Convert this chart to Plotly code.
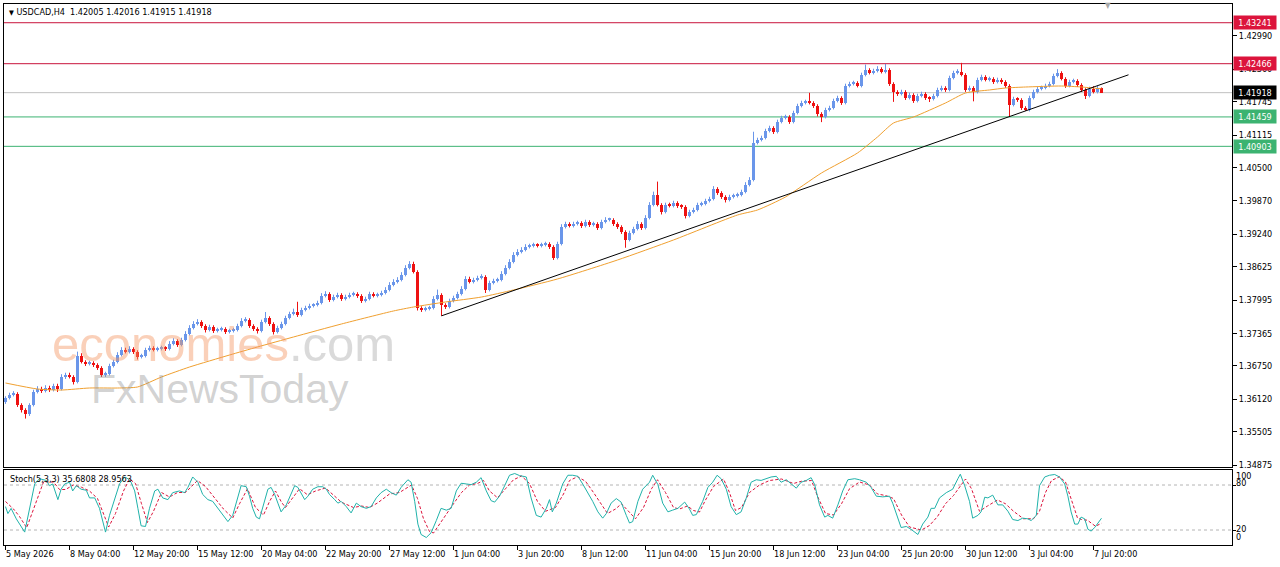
import plotly.graph_objects as go

# ---------------- data ----------------
symbol_title = "USDCAD,H4  1.42005 1.42016 1.41915 1.41918"
stoch_title = "Stoch(5,3,3) 35.6808 28.9563"

first_open = 1.36071
closes = [
    1.36146, 1.36203, 1.36222, 1.36014, 1.35919, 1.35844, 1.36014, 1.36260, 1.36316, 1.36278,
    1.36335, 1.36297, 1.36373, 1.36316, 1.36543, 1.36581, 1.36543, 1.36449, 1.36940, 1.36827,
    1.36789, 1.36808, 1.36770, 1.36714, 1.36581, 1.36600, 1.36751, 1.36827, 1.36959, 1.37054,
    1.37016, 1.37073, 1.37016, 1.36921, 1.36940, 1.37054, 1.37092, 1.37054, 1.37073, 1.37092,
    1.37073, 1.37168, 1.37224, 1.37149, 1.37243, 1.37357, 1.37470, 1.37546, 1.37584, 1.37508,
    1.37432, 1.37489, 1.37413, 1.37432, 1.37451, 1.37394, 1.37413, 1.37432, 1.37508, 1.37603,
    1.37622, 1.37508, 1.37451, 1.37413, 1.37584, 1.37659, 1.37546, 1.37394, 1.37470, 1.37546,
    1.37659, 1.37735, 1.37773, 1.37716, 1.37811, 1.37848, 1.37886, 1.37905, 1.37943, 1.38076,
    1.38113, 1.38000, 1.38057, 1.38094, 1.38019, 1.38057, 1.38094, 1.38113, 1.38076, 1.37981,
    1.38019, 1.38113, 1.38076, 1.38094, 1.38132, 1.38189, 1.38284, 1.38340, 1.38378, 1.38473,
    1.38605, 1.38681, 1.38529, 1.37848, 1.37811, 1.37830, 1.37848, 1.38019, 1.38094, 1.37905,
    1.37867, 1.37981, 1.38038, 1.38113, 1.38208, 1.38397, 1.38340, 1.38378, 1.38416, 1.38435,
    1.38189, 1.38322, 1.38359, 1.38378, 1.38492, 1.38605, 1.38719, 1.38851, 1.38908, 1.38946,
    1.39002, 1.39021, 1.39040, 1.39021, 1.39040, 1.39059, 1.39002, 1.38794, 1.39059, 1.39380,
    1.39437, 1.39399, 1.39437, 1.39456, 1.39399, 1.39475, 1.39418, 1.39437, 1.39361, 1.39475,
    1.39513, 1.39513, 1.39437, 1.39380, 1.39286, 1.39135, 1.39267, 1.39342, 1.39437, 1.39361,
    1.39551, 1.39797, 1.39986, 1.39797, 1.39664, 1.39797, 1.39778, 1.39834, 1.39778, 1.39759,
    1.39589, 1.39664, 1.39702, 1.39797, 1.39816, 1.39872, 1.39910, 1.40100, 1.40024, 1.39948,
    1.39891, 1.39948, 1.39967, 1.39986, 1.40043, 1.40175, 1.40270, 1.40969, 1.41026, 1.41064,
    1.41196, 1.41253, 1.41177, 1.41367, 1.41442, 1.41461, 1.41367, 1.41537, 1.41669, 1.41726,
    1.41745, 1.41726, 1.41669, 1.41518, 1.41461, 1.41593, 1.41631, 1.41764, 1.41820, 1.41726,
    1.42048, 1.42085, 1.42104, 1.42048, 1.42256, 1.42350, 1.42293, 1.42331, 1.42369, 1.42312,
    1.42350, 1.42085, 1.41934, 1.41896, 1.41934, 1.41820, 1.41877, 1.41764, 1.41858, 1.41896,
    1.41820, 1.41801, 1.41858, 1.41972, 1.42010, 1.41972, 1.42199, 1.42293, 1.42312, 1.42256,
    1.41972, 1.42010, 1.41934, 1.42161, 1.42218, 1.42161, 1.42180, 1.42123, 1.42161, 1.42123,
    1.42048, 1.41688, 1.41801, 1.41783, 1.41631, 1.41593, 1.41820, 1.41934, 1.41991, 1.42010,
    1.42048, 1.42085, 1.42237, 1.42293, 1.42180, 1.42048, 1.42123, 1.42142, 1.42066, 1.41972,
    1.41858, 1.41991, 1.41934, 1.42005, 1.41918,
]
# wick lengths above the body top / below the body bottom, in pips
upper_wick_pips = [
    3, 4, 5, 3, 3, 3, 3, 4, 5, 4,   5, 4, 4, 4, 5, 4, 4, 3, 8, 5,
    3, 4, 3, 3, 3, 4, 4, 4, 5, 5,   4, 5, 3, 3, 4, 4, 4, 3, 4, 4,
    3, 5, 5, 3, 4, 5, 5, 5, 5, 3,   3, 4, 3, 4, 4, 3, 4, 4, 4, 5,
    5, 3, 3, 3, 4, 11, 3, 3, 4, 4,  4, 4, 6, 19, 4, 4, 4, 3, 4, 5,
    5, 3, 4, 4, 3, 4, 4, 4, 3, 3,   4, 4, 3, 4, 4, 5, 5, 5, 5, 5,
    5, 5, 4, 3, 3, 4, 4, 5, 10, 3,  3, 4, 4, 4, 5, 5, 4, 4, 4, 5,
    3, 4, 4, 4, 5, 5, 5, 5, 5, 5,   5, 4, 4, 3, 4, 4, 3, 3, 4, 5,
    4, 3, 4, 4, 3, 4, 3, 4, 3, 4,   5, 4, 3, 3, 3, 3, 4, 4, 5, 3,
    5, 5, 6, 25, 3, 4, 4, 4, 3, 3,  3, 4, 4, 4, 4, 4, 4, 5, 3, 3,
    3, 4, 4, 4, 4, 5, 5, 21, 4, 4,  4, 4, 3, 4, 4, 4, 3, 4, 4, 4,
    4, 17, 3, 3, 3, 4, 4, 4, 4, 3,  4, 4, 4, 3, 4, 10, 3, 4, 5, 3,
    11, 3, 3, 3, 4, 3, 4, 3, 4, 4,  3, 3, 4, 4, 4, 3, 4, 4, 5, 17,
    3, 4, 3, 4, 4, 3, 4, 3, 4, 3,   3, 3, 4, 3, 3, 3, 4, 4, 4, 4,
    4, 4, 4, 7, 3, 3, 4, 4, 3, 3,   3, 4, 5, 4, 1.1,
]
lower_wick_pips = [
    4, 3, 3, 4, 5, 9, 4, 3, 3, 4,   3, 4, 3, 6, 3, 4, 3, 5, 3, 3,
    4, 3, 4, 4, 4, 4, 3, 3, 3, 3,   3, 3, 4, 5, 3, 3, 3, 3, 3, 3,
    4, 3, 3, 4, 3, 3, 3, 3, 3, 4,   5, 3, 4, 3, 3, 4, 3, 3, 3, 3,
    3, 4, 4, 5, 3, 3, 4, 5, 3, 3,   3, 3, 3, 4, 3, 3, 3, 3, 3, 3,
    3, 4, 3, 3, 4, 3, 3, 3, 4, 4,   3, 3, 3, 3, 3, 3, 3, 3, 3, 3,
    3, 3, 3, 5, 4, 3, 3, 3, 3, 21,  4, 3, 3, 3, 3, 3, 3, 3, 3, 3,
    6, 3, 3, 3, 3, 3, 3, 3, 3, 3,   3, 3, 3, 3, 3, 3, 4, 4, 3, 3,
    3, 3, 3, 3, 4, 3, 4, 3, 4, 3,   3, 3, 4, 4, 4, 15, 3, 3, 3, 4,
    3, 3, 3, 3, 5, 3, 3, 3, 4, 4,   5, 3, 3, 3, 3, 3, 3, 3, 4, 4,
    5, 3, 3, 3, 3, 3, 3, 3, 3, 3,   3, 3, 4, 3, 3, 3, 4, 3, 3, 3,
    3, 3, 4, 5, 10, 3, 3, 3, 3, 4,  3, 3, 3, 3, 3, 3, 3, 3, 3, 3,
    3, 4, 19, 4, 3, 4, 3, 4, 3, 3,  4, 6, 3, 3, 3, 4, 3, 3, 3, 3,
    4, 3, 18, 3, 3, 3, 3, 4, 3, 4,  4, 23, 3, 4, 4, 2, 3, 3, 3, 3,
    3, 3, 3, 3, 3, 4, 3, 3, 4, 4,   6, 3, 3, 3, 0.3,
]

# moving average (orange line), read at selected bars
ma_bar = [0, 8, 14, 21, 28, 33, 39, 46, 56, 63, 72, 84, 97, 102, 110, 119, 127, 138,
          153, 167, 183, 188, 195, 204, 213, 218, 222, 227, 235, 240, 246, 250, 255, 264, 269, 274]
ma_value = [1.36427, 1.36313, 1.36294, 1.36332, 1.36332, 1.36351, 1.36540, 1.36729, 1.36956,
            1.37108, 1.37297, 1.37543, 1.37789, 1.37864, 1.37959, 1.38053, 1.38186, 1.38394,
            1.38753, 1.39132, 1.39604, 1.39699, 1.39945, 1.40399, 1.40777, 1.41080, 1.41344,
            1.41458, 1.41723, 1.41912, 1.41969, 1.42006, 1.42025, 1.42044, 1.42025, 1.41991]

# trend line drawn on the chart
trend_bar = [109, 280.75]
trend_price = [1.37697, 1.42256]

# horizontal levels
resistance_levels = [1.43241, 1.42466]
support_levels = [1.41459, 1.40903]
bid_price = 1.41918

price_ticks = [1.42990, 1.42360, 1.41745, 1.41115, 1.40500, 1.39870, 1.39240,
               1.38625, 1.37995, 1.37365, 1.36750, 1.36120, 1.35505, 1.34875]

time_label_bars = [0, 16, 32, 48, 64, 80, 96, 112, 128, 144, 160, 176, 192, 208, 224, 240, 256, 272]
time_labels = ["5 May 2026", "8 May 04:00", "12 May 20:00", "15 May 12:00", "20 May 04:00",
               "22 May 20:00", "27 May 12:00", "1 Jun 04:00", "3 Jun 20:00", "8 Jun 12:00",
               "11 Jun 04:00", "15 Jun 20:00", "18 Jun 12:00", "23 Jun 04:00", "25 Jun 20:00",
               "30 Jun 12:00", "3 Jul 04:00", "7 Jul 20:00"]

# stochastic main line (%K)
stoch_main_bar = [
    0, 0.6, 1.4, 2.7, 4.8, 7.3, 8.5, 10.2, 11, 11.8,
    13.1, 13.9, 14.8, 16, 16.8, 17.7, 18.9, 20.2, 21, 22.3,
    23.5, 25, 26, 27.3, 28.5, 29.8, 30.6, 31.4, 32.3, 33.1,
    33.9, 35, 36, 37.3, 38.1, 39.3, 40.6, 41.8, 43.5, 44.8,
    45.6, 46.8, 48.1, 49.3, 50.6, 51.8, 53.1, 54.3, 55.6, 56.8,
    58.1, 58.9, 60.2, 61, 61.8, 62.7, 63.5, 64.3, 65.6, 66.4,
    67.3, 68.1, 68.9, 70.2, 71.4, 72.3, 73.1, 73.9, 74.8, 75.6,
    76.8, 78.1, 79.3, 80.2, 81, 82.3, 83.1, 83.9, 85.2, 86.4,
    87.7, 88.9, 90.2, 91.4, 92.7, 93.9, 95.2, 96.4, 97.7, 98.9,
    100.6, 101.4, 102.3, 103.1, 103.9, 105.2, 106.4, 107.7, 108.9, 110.2,
    111.4, 112.7, 113.9, 115.2, 116.4, 117.7, 118.9, 120.2, 121.4, 122.3,
    123.5, 124.8, 126, 127.3, 128.5, 130.2, 131.4, 132.7, 133.9, 135.2,
    136, 136.7, 137.7, 139.3, 140.6, 141.8, 143.1, 144.3, 145.6, 146.8,
    148.1, 149.3, 150.2, 151.4, 152.7, 153.9, 155.2, 156, 156.8, 158.1,
    159.3, 161, 161.8, 163.1, 164.3, 165.6, 166.8, 168.1, 169.8, 171,
    171.8, 172.7, 174.3, 175.6, 176.8, 177.9, 178.9, 180.2, 181.4, 182.7,
    183.9, 185.2, 186.4, 187.7, 188.9, 190.2, 191.4, 192.7, 193.9, 195.2,
    196.4, 197.7, 198.9, 200.2, 201.4, 202.3, 203.5, 204.8, 205.6, 206.8,
    208.1, 209.3, 210.6, 212.3, 213.5, 215.2, 216.4, 217.7, 219.3, 221,
    221.8, 223.1, 223.9, 225.2, 226.4, 228.1, 229.3, 230.6, 231.4, 232.3,
    233.5, 235.2, 236.8, 238.1, 238.7, 239.8, 241, 241.8, 243.1, 243.9,
    244.8, 245.6, 246.8, 248.1, 249.3, 250.6, 251.8, 253.1, 254.3, 255.6,
    256.4, 257.7, 258.5, 259.8, 261, 262.3, 263.5, 264.8, 265.6, 266.4,
    267.3, 268.1, 268.9, 269.8, 270.6, 271.4, 272.3, 274,
]
stoch_main_value = [
    51.2, 41.9, 48.8, 34.9, 17.2, 81.4, 88.4, 86.1, 79.1, 81.4,
    60.5, 74.4, 81.4, 83.7, 72.1, 79.1, 74.4, 73, 62.8, 62.8,
    48.9, 17.2, 39.5, 62.8, 81.4, 90.7, 88.4, 83.7, 72.1, 48.9,
    25.6, 24.7, 48.9, 72.1, 74.4, 62.8, 60.5, 69.8, 72.1, 69.8,
    76.8, 90.7, 83.7, 67.4, 60.5, 58.2, 48.9, 39.5, 31.2, 39.5,
    62.8, 79.1, 77.7, 65.1, 48.9, 37.2, 34.9, 48.9, 74.4, 76.8,
    67.4, 55.8, 44.2, 53.5, 67.4, 79.1, 76.8, 69.8, 60.5, 65.1,
    74.4, 77.7, 77.7, 74.4, 67.4, 60.5, 55.8, 58.2, 51.2, 42.8,
    55.8, 51.2, 48.9, 51.2, 62.8, 69.8, 74.4, 69.8, 66.5, 76.8,
    87, 83.7, 58.2, 27.9, 14, 10, 16.3, 32.6, 48.9, 46.5,
    48.9, 72.1, 82.3, 81.4, 80.5, 83.7, 89.8, 72.1, 59.1, 57.2,
    65.1, 79.1, 93, 95.3, 92.6, 90.7, 62.8, 39.5, 37.2, 48.9,
    60.5, 44.2, 55.8, 81.4, 93, 93, 91.6, 81.4, 69.8, 58.2,
    44.2, 35.8, 41.9, 55.8, 61.9, 57.2, 39.5, 29.3, 31.2, 58.2,
    74.4, 83.7, 93, 80.5, 55.8, 44.2, 46.5, 48.9, 57.2, 47.9,
    39.5, 40.5, 58.2, 76.8, 83.7, 93, 88.4, 74.4, 51.2, 40.5,
    44.2, 62.8, 83.7, 87, 86.1, 88.4, 90.7, 91.6, 83.7, 87,
    81.4, 75.8, 83.7, 86.1, 89.8, 80.5, 53.5, 37.2, 39.5, 35.8,
    53.5, 72.1, 87, 88.4, 87, 83.7, 76.8, 65.1, 64.2, 65.1,
    55.8, 34.9, 23.3, 24.7, 20.9, 14, 27.9, 37.2, 48.9, 48.9,
    62.8, 69.8, 74.4, 88.4, 94.4, 79.1, 58.2, 35.8, 39.5, 44.2,
    63.7, 62.8, 66.5, 53.5, 53.5, 45.1, 34, 32.6, 35.8, 34.9,
    32.6, 39.5, 79.1, 90.7, 93, 94, 90.7, 81.4, 65.1, 44.2,
    27.9, 27.9, 37.2, 34.9, 21, 18.6, 23.3, 35.68,
]
# stochastic signal line (%D)
stoch_signal_bar = [
    0, 2, 3.5, 5.3, 7.5, 9.5, 12, 13.5, 15, 17,
    19, 21, 23, 24.5, 25.8, 27.5, 29.5, 31, 32.5, 34,
    35.5, 37, 39, 41, 43, 45, 48, 50, 52, 54.5,
    56.8, 58.5, 60.5, 62.5, 64.5, 66, 67.5, 69, 70, 72,
    73.5, 75.5, 77.5, 80, 82, 84, 87, 89, 91, 93,
    96, 98.5, 101.5, 103, 104.5, 106, 107, 108.5, 110, 112,
    114, 116, 118, 119.5, 121, 123, 125, 127, 129, 131,
    133, 135, 137.5, 139.5, 141, 143, 145, 147, 150.5, 152.5,
    154, 155.5, 157.5, 159.5, 161.5, 163, 165, 167, 168.5, 170.5,
    172, 173.5, 175, 177, 179.5, 181, 182.5, 184, 186, 188.5,
    191, 194, 197, 199, 201.5, 203, 205, 207, 209, 211,
    213.5, 216, 218, 220, 222, 224, 226, 229, 231, 233,
    235, 237, 239, 240, 241.5, 243.5, 245.5, 248, 250, 252,
    254.5, 257, 258.5, 260, 261.5, 263.5, 265, 266.5, 268, 269,
    270.5, 272.5, 274,
]
stoch_signal_value = [
    58, 48, 38, 23, 55, 84, 84, 74, 74, 80,
    77, 72, 62, 42, 24, 42, 72, 88, 82, 55,
    30, 45, 70, 64, 70, 70, 86, 78, 64, 48,
    36, 55, 75, 50, 40, 58, 72, 57, 50, 65,
    75, 67, 72, 76, 66, 57, 50, 52, 50, 56,
    68, 70, 80, 62, 35, 18, 16, 28, 40, 55,
    70, 80, 82, 86, 72, 63, 75, 87, 92, 82,
    58, 45, 50, 68, 86, 91, 85, 70, 42, 48,
    55, 46, 35, 50, 75, 87, 70, 50, 48, 52,
    46, 44, 60, 78, 88, 70, 46, 50, 70, 80,
    86, 88, 82, 85, 86, 65, 42, 40, 55, 75,
    84, 80, 68, 66, 62, 40, 24, 20, 26, 38,
    55, 66, 80, 88, 75, 45, 52, 60, 55, 45,
    35, 35, 45, 70, 86, 91, 84, 60, 36, 34,
    33, 25, 28.96,
]
stoch_levels = [80, 20]
stoch_scale_labels = ["100", "80", "20", "0"]

# ---------------- styles ----------------
BULL = "#6A96EA"
BEAR = "#EE1111"
MA_COLOR = "#F0A030"
RES_LINE = "#C8143C"
RES_BOX = "#DC143C"
SUP_LINE = "#3CB371"
SUP_BOX = "#3CB371"
BID_LINE = "#C0C0C0"
K_COLOR = "#20B2AA"
D_COLOR = "#DC143C"
FONT = "DejaVu Sans Condensed, DejaVu Sans, sans-serif"

W, H = 1280, 567
ML, MR, MT, MB = 4, 48, 4, 22
PH = H - MT - MB
main_bottom_px = 467
stoch_top_px = 470
x_range = [-0.375, 306.625]
y_range = [1.34838, 1.43595]

# ---------------- derived candle parts ----------------
n = min(len(closes), len(upper_wick_pips), len(lower_wick_pips))
bars = list(range(n))
opens = [first_open] + closes[:n - 1]
highs = [max(opens[i], closes[i]) + upper_wick_pips[i] * 1e-4 for i in bars]
lows = [min(opens[i], closes[i]) - lower_wick_pips[i] * 1e-4 for i in bars]
bull = [closes[i] >= opens[i] for i in bars]

body_base = [min(opens[i], closes[i]) for i in bars]
body_len = [max(abs(closes[i] - opens[i]), 0.00019) for i in bars]
body_col = [BULL if b else BEAR for b in bull]


def wick_xy(sel):
    xs, ys = [], []
    for i in bars:
        if bull[i] == sel:
            xs += [i, i, None]
            ys += [lows[i], highs[i], None]
    return xs, ys


fig = go.Figure()

bx, by = wick_xy(True)
rx, ry = wick_xy(False)
fig.add_trace(go.Scatter(x=bx, y=by, mode="lines", line=dict(color=BULL, width=1),
                         hoverinfo="skip", xaxis="x", yaxis="y"))
fig.add_trace(go.Scatter(x=rx, y=ry, mode="lines", line=dict(color=BEAR, width=1),
                         hoverinfo="skip", xaxis="x", yaxis="y"))
fig.add_trace(go.Bar(x=bars, y=body_len, base=body_base, width=0.75,
                     marker=dict(color=body_col, line=dict(width=0)),
                     hoverinfo="skip", xaxis="x", yaxis="y"))
fig.add_trace(go.Scatter(x=ma_bar, y=ma_value, mode="lines", line_shape="spline",
                         line=dict(color=MA_COLOR, width=1, smoothing=0.6), xaxis="x", yaxis="y"))
fig.add_trace(go.Scatter(x=trend_bar, y=trend_price, mode="lines",
                         line=dict(color="black", width=1), xaxis="x", yaxis="y"))

fig.add_trace(go.Scatter(x=stoch_signal_bar, y=stoch_signal_value, mode="lines",
                         line=dict(color=D_COLOR, width=1, dash="3px,2px"),
                         xaxis="x2", yaxis="y2"))
fig.add_trace(go.Scatter(x=stoch_main_bar, y=stoch_main_value, mode="lines",
                         line=dict(color=K_COLOR, width=1), xaxis="x2", yaxis="y2"))

shapes = []
for lv in resistance_levels:
    shapes.append(dict(type="line", xref="x domain", yref="y", x0=0, x1=1, y0=lv, y1=lv,
                       line=dict(color=RES_LINE, width=1), layer="below"))
for lv in support_levels:
    shapes.append(dict(type="line", xref="x domain", yref="y", x0=0, x1=1, y0=lv, y1=lv,
                       line=dict(color=SUP_LINE, width=1), layer="below"))
shapes.append(dict(type="line", xref="x domain", yref="y", x0=0, x1=1, y0=bid_price, y1=bid_price,
                   line=dict(color=BID_LINE, width=1), layer="below"))
for lv in stoch_levels:
    shapes.append(dict(type="line", xref="x2 domain", yref="y2", x0=0, x1=1, y0=lv, y1=lv,
                       line=dict(color="#B4B4B4", width=1, dash="3px,3px"), layer="below"))

ann = []


def px_x(p):
    return (p - ML) / (W - ML - MR)


def px_y(p):
    return (H - MB - p) / PH


# watermark
ann.append(dict(xref="paper", yref="paper", x=px_x(50), y=px_y(344), xanchor="left", yanchor="middle",
                showarrow=False,
                text="<span style='color:rgba(245,150,100,0.45)'>economies</span>"
                     "<span style='color:rgba(150,150,150,0.35)'>.com</span>",
                font=dict(family="Liberation Sans, Arial, sans-serif", size=49)))
ann.append(dict(xref="paper", yref="paper", x=px_x(89), y=px_y(389), xanchor="left", yanchor="middle",
                showarrow=False, text="FxNewsToday",
                font=dict(family="Liberation Sans, Arial, sans-serif", size=41,
                          color="rgba(140,140,140,0.40)")))

# header texts
ann.append(dict(xref="paper", yref="paper", x=px_x(7), y=px_y(12), xanchor="left", yanchor="middle",
                showarrow=False, text="<span style='font-size:7px'>▼</span> " + symbol_title,
                font=dict(family=FONT, size=9, color="black")))
ann.append(dict(xref="paper", yref="paper", x=px_x(8), y=px_y(479), xanchor="left", yanchor="middle",
                showarrow=False, text=stoch_title, font=dict(family=FONT, size=9, color="black")))
ann.append(dict(xref="paper", yref="paper", x=px_x(1108), y=px_y(5), xanchor="center", yanchor="middle",
                showarrow=False, text="▼", font=dict(family=FONT, size=8, color="#A8A8A8")))

# boxed price labels
for lv, col in [(resistance_levels[0], RES_BOX), (resistance_levels[1], RES_BOX),
                (bid_price, "black"), (support_levels[0], SUP_BOX), (support_levels[1], SUP_BOX)]:
    ann.append(dict(xref="paper", yref="y", x=1, y=lv, xanchor="left", yanchor="middle",
                    xshift=1, showarrow=False, text=f"{lv:.5f}", bgcolor=col, borderpad=1,
                    width=40, height=11, align="center",
                    font=dict(family=FONT, size=9, color="white")))

# stochastic scale labels (positioned like the terminal draws them)
for txt, v in zip(stoch_scale_labels, [92, 82.7, 21.3, 10.7]):
    ann.append(dict(xref="paper", yref="y2", x=1, y=v, xanchor="left", yanchor="middle",
                    xshift=2, showarrow=False, text=txt,
                    font=dict(family=FONT, size=9, color="black")))

# time labels
for b, t in zip(time_label_bars, time_labels):
    ann.append(dict(xref="x2", yref="paper", x=b, y=px_y(554), xanchor="left", yanchor="middle",
                    xshift=-2, showarrow=False, text=t,
                    font=dict(family=FONT, size=9, color="black")))

axis_common = dict(showgrid=False, zeroline=False, showline=True, linecolor="black",
                   linewidth=1, mirror=True)

fig.update_layout(
    width=W, height=H, margin=dict(l=ML, r=MR, t=MT, b=MB, pad=0),
    paper_bgcolor="white", plot_bgcolor="white", showlegend=False,
    bargap=0, shapes=shapes, annotations=ann,
    xaxis=dict(domain=[0, 1], range=x_range, anchor="y", showticklabels=False, ticks="",
               **axis_common),
    yaxis=dict(domain=[px_y(main_bottom_px), 1], range=y_range, side="right", anchor="x",
               tickvals=price_ticks, ticktext=[f"{v:.5f}" for v in price_ticks],
               ticks="outside", ticklen=4, tickcolor="black",
               tickfont=dict(family=FONT, size=9, color="black"), **axis_common),
    xaxis2=dict(domain=[0, 1], range=x_range, anchor="y2", tickvals=time_label_bars,
                showticklabels=False, ticks="outside", ticklen=4, tickcolor="black",
                **axis_common),
    yaxis2=dict(domain=[0, px_y(stoch_top_px)], range=[0, 100], side="right", anchor="x2",
                tickvals=stoch_levels, showticklabels=False, ticks="outside", ticklen=3,
                tickcolor="black", **axis_common),
)

fig.write_html("out.html", config={"displayModeBar": False})
